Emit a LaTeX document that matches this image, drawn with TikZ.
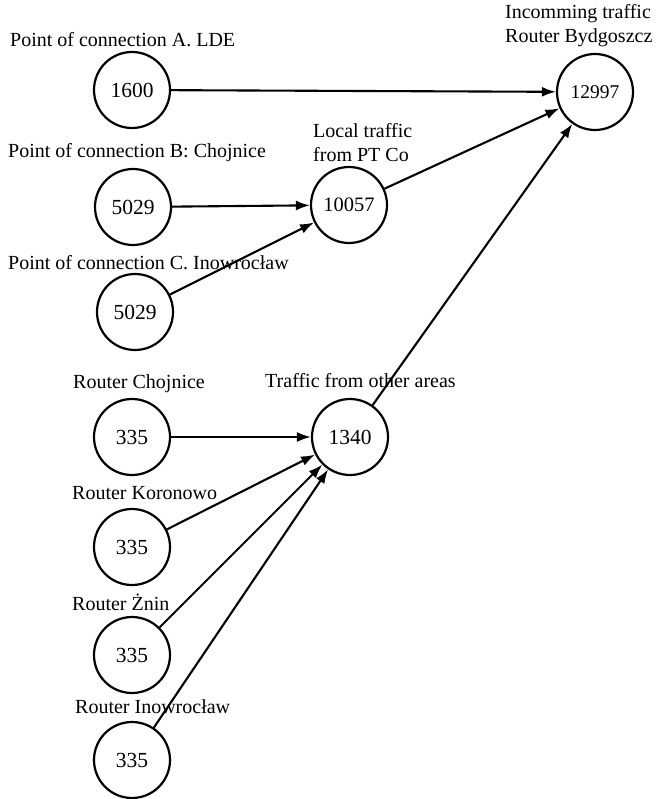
\documentclass[tikz,border=0pt]{standalone}
\usepackage{fontspec}
\setmainfont{Liberation Serif}
\usetikzlibrary{arrows.meta}
\tikzset{
  ncirc/.style={circle,draw,line width=2.2pt,minimum size=76pt,inner sep=0pt,font=\fontsize{21.5}{24}\selectfont},
  lab/.style={font=\fontsize{20}{24}\selectfont,inner sep=0pt,anchor=west,align=left},
  flow/.style={line width=2.1pt,-{Latex[length=14pt,width=10pt]}}
}
\begin{document}
\begin{tikzpicture}[x=1pt,y=-1pt]
\useasboundingbox (0,0) rectangle (659,799);
% nodes
\node[ncirc] (a) at (132,90) {1600};
\node[ncirc] (b) at (133,207) {5029};
\node[ncirc] (c) at (135,312) {5029};
\node[ncirc] (loc) at (349,205) {\fontsize{20.5}{24}\selectfont 10057};
\node[ncirc] (inc) at (595,92) {\fontsize{19.5}{22}\selectfont 12997};
\node[ncirc] (r1) at (132,437) {335};
\node[ncirc] (r2) at (132,547) {335};
\node[ncirc] (r3) at (132,655) {335};
\node[ncirc] (r4) at (132,760) {335};
\node[ncirc] (oth) at (350,437) {1340};
% labels
\node[lab] (la) at (10,40) {Point of connection A. LDE};
\node[lab] (lb) at (8,153) {Point of connection B: Chojnice};
\node[lab] (lc) at (8,263) {Point of connection C. Inowrocław};
\node[lab] (lloc) at (313,143) {Local traffic\\from PT Co};
\node[lab] (linc) at (505,26) {Incomming traffic\\Router Bydgoszcz};
\node[lab] (lr1) at (73,384) {Router Chojnice};
\node[lab] (loth) at (265,381) {Traffic from other areas};
\node[lab] (lr2) at (72,493) {Router Koronowo};
\node[lab] (lr3) at (72,602) {Router Żnin};
\node[lab] (lr4) at (75,707) {Router Inowrocław};
% connectors
\draw[flow] (a) -- (inc);
\draw[flow] (b) -- (loc);
\draw[flow] (c) -- (loc);
\draw[flow] (loc) -- (inc);
\draw[flow] (oth) -- (inc);
\draw[flow] (r1) -- (oth);
\draw[flow] (r2) -- (oth);
\draw[flow] (r3) -- (oth);
\draw[flow] (r4) -- (oth);
\end{tikzpicture}
\end{document}
